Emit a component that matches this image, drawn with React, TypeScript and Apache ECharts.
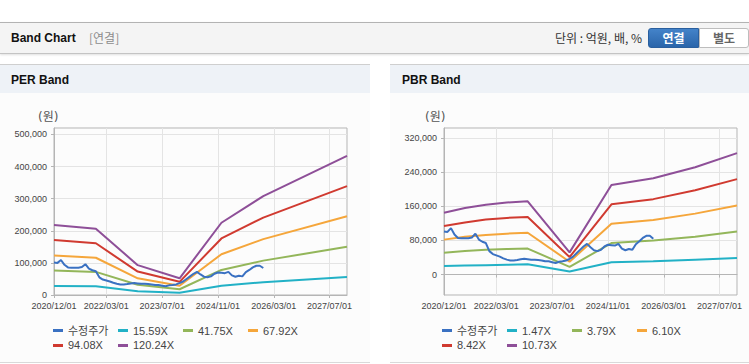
import React, { useEffect, useRef } from 'react';
import * as echarts from 'echarts';

// ---------- data ----------
const xTickLabels = ['2020/12/01', '2022/03/01', '2023/07/01', '2024/11/01', '2026/03/01', '2027/07/01'];

// monthly categories 2020/12/01 .. 2027/12/01
const months: string[] = [];
for (let i = 0; i <= 84; i++) {
  const k = 11 + i;
  const y = 2020 + Math.floor(k / 12);
  const m = (k % 12) + 1;
  months.push(`${y}/${m < 10 ? '0' + m : m}/01`);
}

const legendNamesPER = ['수정주가', '15.59X', '41.75X', '67.92X', '94.08X', '120.24X'];
const legendNamesPBR = ['수정주가', '1.47X', '3.79X', '6.10X', '8.42X', '10.73X'];

// adjusted price, monthly from 2020/12/01
const price = [
  101000, 100000, 109000, 94000, 86000, 85000, 85000, 85000, 87000, 96000,
  82000, 77000, 74000, 55000, 48000, 45000, 42000, 38000, 35000, 33000,
  33000, 34000, 36000, 37000, 36000, 35000, 35000, 34000, 33000, 31000,
  31000, 29000, 27000, 30000, 31000, 33000, 37000, 42000, 50000, 58000,
  66000, 72000, 64000, 57000, 55000, 58000, 66000, 70000, 69000, 68000,
  72000, 61000, 57000, 60000, 58000, 71000, 78000, 86000, 91000, 91000,
  84000,
];

const perDates = ['2020/12/01', '2021/12/01', '2022/12/01', '2023/12/01', '2024/12/01', '2025/12/01', '2027/12/01'];
const per15 = [28000, 27000, 12000, 7000, 29000, 40000, 56000];
const per41 = [76000, 72000, 32000, 18000, 78000, 107000, 150000];
const per67 = [123000, 116000, 52000, 29000, 127000, 174000, 245000];
const per94 = [171000, 161000, 73000, 41000, 176000, 241000, 339000];
const per120 = [218000, 206000, 93000, 52000, 225000, 308000, 433000];

const pbrDates = ['2020/12/01', '2021/06/01', '2021/12/01', '2022/06/01', '2022/12/01', '2023/12/01', '2024/12/01', '2025/12/01', '2026/12/01', '2027/12/01'];
const pbr147 = [20000, 21000, 22000, 23000, 24000, 7000, 29000, 31000, 35000, 39000];
const pbr379 = [51000, 55000, 58000, 60000, 61000, 18000, 74000, 80000, 89000, 101000];
const pbr610 = [82000, 89000, 93000, 96000, 98000, 30000, 119000, 128000, 143000, 162000];
const pbr842 = [114000, 122000, 129000, 133000, 135000, 41000, 165000, 177000, 198000, 224000];
const pbr1073 = [145000, 156000, 164000, 169000, 172000, 52000, 210000, 226000, 252000, 285000];

const perYTicks = [0, 100000, 200000, 300000, 400000, 500000];
const pbrYTicks = [0, 80000, 160000, 240000, 320000];

// ---------- styles ----------
const FONT = "'Liberation Sans', 'Noto Sans CJK KR', sans-serif";
const KFONT = "'Noto Sans CJK KR', 'Liberation Sans', sans-serif";
const AXIS = '#b5b5b5';
const GRID = '#e4e4e4';
const PRICE_COLOR = '#3a71c2';
const BAND_COLORS = ['#22b1c6', '#93b65a', '#f5a63b', '#d03a30', '#8e4f98'];

const showTick = (_i: number, v: string) => xTickLabels.indexOf(v) >= 0;

function buildOption(
  names: string[],
  bandDates: string[],
  bands: number[][],
  yMin: number,
  yMax: number,
  yTicks: number[],
  nameLeft: number,
  legendLeft: number
) {
  const bandSeries = bands.map((vals, i) => ({
    name: names[i + 1],
    type: 'line',
    data: bandDates.map((d, j) => [d, vals[j]]),
    showSymbol: false,
    symbol: 'none',
    color: BAND_COLORS[i],
    lineStyle: { width: 2, color: BAND_COLORS[i] },
    z: 2,
  }));
  return {
    animation: false,
    grid: { left: 54, top: 35, width: 293, height: 167, show: true, borderColor: AXIS, borderWidth: 1, backgroundColor: 'transparent' },
    xAxis: {
      type: 'category',
      data: months,
      boundaryGap: false,
      axisLine: { lineStyle: { color: AXIS } },
      axisTick: { show: true, interval: showTick, length: 3, lineStyle: { color: AXIS } },
      axisLabel: { interval: showTick, color: '#444', fontSize: 9, margin: 6, fontFamily: FONT },
      splitLine: { show: true, interval: showTick, lineStyle: { color: GRID } },
    },
    yAxis: {
      type: 'value',
      min: yMin,
      max: yMax,
      axisLine: { show: true, lineStyle: { color: AXIS } },
      axisTick: { show: true, length: 3, customValues: yTicks, lineStyle: { color: AXIS } },
      axisLabel: {
        customValues: yTicks,
        color: '#444',
        fontSize: 9,
        margin: 7,
        fontFamily: FONT,
        formatter: (v: number) => Number(v).toLocaleString('en-US'),
      },
      splitLine: { show: true, lineStyle: { color: GRID } },
    },
    legend: {
      data: names,
      left: legendLeft,
      top: 232,
      width: 262,
      padding: 0,
      itemGap: 4,
      itemWidth: 10,
      itemHeight: 3,
      icon: 'rect',
      textStyle: { fontSize: 11, color: '#444', width: 46, lineHeight: 9, fontFamily: FONT },
    },
    graphic: [
      { type: 'text', left: nameLeft, top: 18, style: { text: '(원)', fontSize: 12, fill: '#555', fontFamily: "'DejaVu Sans', 'Noto Sans CJK KR', sans-serif" } },
    ],
    series: [
      ...bandSeries,
      {
        name: names[0],
        type: 'line',
        data: price,
        showSymbol: false,
        symbol: 'none',
        color: PRICE_COLOR,
        lineStyle: { width: 2, color: PRICE_COLOR },
        z: 3,
      },
    ],
  };
}

function Chart({ option, style }: { option: any; style: React.CSSProperties }) {
  const ref = useRef<HTMLDivElement>(null);
  useEffect(() => {
    const chart = echarts.init(ref.current as HTMLDivElement, undefined, { renderer: 'svg' });
    chart.setOption(option);
    return () => chart.dispose();
  }, []);
  return <div ref={ref} style={style} />;
}

export default function App() {
  const perOption = buildOption(legendNamesPER, perDates, [per15, per41, per67, per94, per120], 0, 520000, perYTicks, 38, 53);
  const pbrOption = buildOption(legendNamesPBR, pbrDates, [pbr147, pbr379, pbr610, pbr842, pbr1073], -48000, 344000, pbrYTicks, 35, 52);

  const abs = (s: React.CSSProperties): React.CSSProperties => ({ position: 'absolute', ...s });

  return (
    <div style={{ position: 'fixed', left: 0, top: 0, width: 749, height: 364, background: '#fff', overflow: 'hidden', fontFamily: KFONT }}>
      {/* top header */}
      <div style={abs({ left: 0, top: 22, width: 749, height: 30, background: '#f4f4f4', borderTop: '1px solid #b3b3b3', borderBottom: '1px solid #c4c4c4', boxShadow: '0 1px 2px rgba(0,0,0,0.12)' })} />
      <div style={abs({ left: 11, top: 30, fontSize: 12, fontWeight: 'bold', fontFamily: FONT, color: '#111', lineHeight: '16px', whiteSpace: 'nowrap' })}>Band Chart</div>
      <div style={abs({ left: 89, top: 30, fontSize: 12, color: '#8c8c8c', lineHeight: '16px', whiteSpace: 'nowrap' })}>[연결]</div>
      <div style={abs({ right: 107, top: 30, fontSize: 12, color: '#333', lineHeight: '16px', whiteSpace: 'nowrap' })}>단위 : 억원, 배, %</div>
      <div style={abs({ left: 648, top: 28, width: 51, height: 20, boxSizing: 'border-box', background: 'linear-gradient(#4483c9, #2a65aa)', border: '1px solid #2a5f9e', borderRadius: '3px 0 0 3px', color: '#fff', fontWeight: 'bold', fontSize: 12, lineHeight: '18px', textAlign: 'center' })}>연결</div>
      <div style={abs({ left: 699, top: 28, width: 50, height: 20, boxSizing: 'border-box', background: '#fff', border: '1px solid #bdbdbd', borderRadius: '0 3px 3px 0', color: '#666', fontWeight: 'bold', fontSize: 12, lineHeight: '18px', textAlign: 'center' })}>별도</div>

      {/* PER panel */}
      <div style={abs({ left: 0, top: 64, width: 370, height: 297, background: '#fcfcfc', borderTop: '1px solid #cfcfcf', borderBottom: '1px solid #d9d9d9' })} />
      <div style={abs({ left: 0, top: 65, width: 370, height: 28, background: '#eef2f7' })} />
      <div style={abs({ left: 11, top: 72, fontSize: 12, fontWeight: 'bold', fontFamily: FONT, color: '#111', lineHeight: '16px', whiteSpace: 'nowrap' })}>PER Band</div>

      {/* PBR panel */}
      <div style={abs({ left: 390, top: 64, width: 359, height: 297, background: '#fcfcfc', borderTop: '1px solid #cfcfcf', borderBottom: '1px solid #d9d9d9' })} />
      <div style={abs({ left: 390, top: 65, width: 359, height: 28, background: '#eef2f7' })} />
      <div style={abs({ left: 402, top: 72, fontSize: 12, fontWeight: 'bold', fontFamily: FONT, color: '#111', lineHeight: '16px', whiteSpace: 'nowrap' })}>PBR Band</div>

      <Chart option={perOption} style={abs({ left: 0, top: 93, width: 370, height: 269 })} />
      <Chart option={pbrOption} style={abs({ left: 390, top: 93, width: 359, height: 269 })} />
    </div>
  );
}
